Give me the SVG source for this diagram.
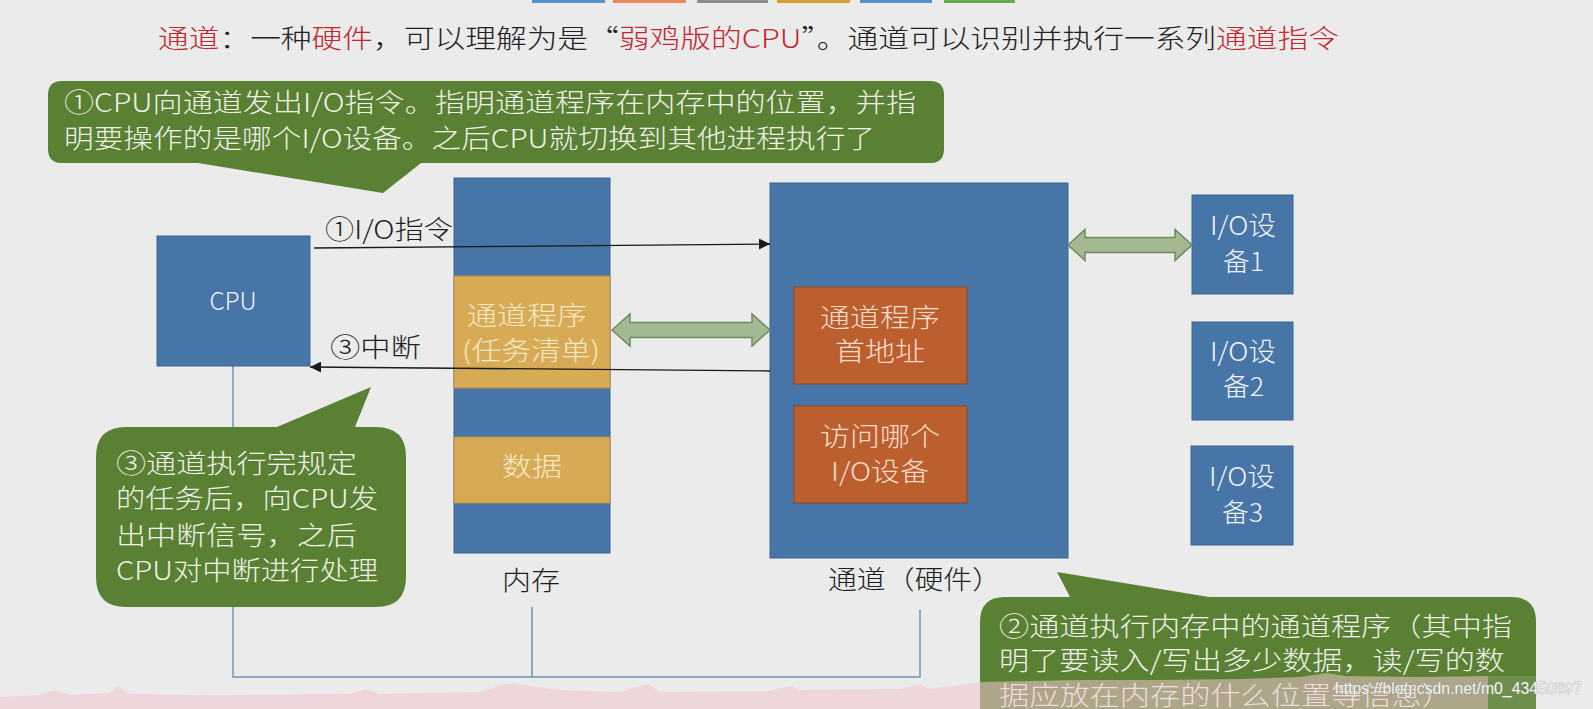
<svg xmlns="http://www.w3.org/2000/svg" width="1593" height="709" viewBox="0 0 1593 709">
<defs>
<style>
.cjk{font-family:"Noto Sans CJK SC","Noto Sans",sans-serif;font-weight:300;}
.blue{fill:#4775a7;stroke:#3c6592;stroke-width:1;}
.yellow{fill:#d7ab55;stroke:#b99043;stroke-width:1;}
.orange{fill:#bb5f2e;stroke:#8f4620;stroke-width:1;}
.callout{fill:#5a8034;}
.ctext{fill:#eef1e8;font-size:26px;}
.wtext{fill:#f2f4f7;font-size:26px;}
.ytext{fill:#f6e8c6;font-size:26px;}
.otext{fill:#f4ddcc;font-size:26px;}
.dark{fill:#1e1e1e;font-size:26px;}
.red{fill:#c0282e;}
.conn{stroke:#1a1a1a;stroke-width:1.3;fill:none;}
.tree{stroke:#7292ba;stroke-width:1.5;fill:none;}
.block{fill:#a2b992;stroke:#6d8c5d;stroke-width:1.5;}
</style>
<marker id="ah" viewBox="0 0 10 10" refX="10" refY="5" markerWidth="11" markerHeight="11" markerUnits="userSpaceOnUse" orient="auto">
<path d="M0,0 L10,5 L0,10 z" fill="#1a1a1a"/>
</marker>
</defs>
<rect width="1593" height="709" fill="#ebebeb"/>

<g id="tabs">
<rect x="532" y="0" width="73" height="3" fill="#5b8fcf"/>
<rect x="613" y="0" width="73" height="3" fill="#e8875a"/>
<rect x="697" y="0" width="71" height="3" fill="#8c8c8c"/>
<rect x="777" y="0" width="73" height="3" fill="#d9a030"/>
<rect x="860" y="0" width="72" height="3" fill="#5b8fcf"/>
<rect x="944" y="0" width="71" height="3" fill="#6aa84f"/>
</g>

<g id="title">
<text class="cjk" x="158" y="47.5" font-size="26" fill="#222" textLength="1181" lengthAdjust="spacingAndGlyphs"><tspan class="red">通道</tspan>：一种<tspan class="red">硬件</tspan>，可以理解为是“<tspan class="red">弱鸡版的CPU</tspan>”。通道可以识别并执行一系列<tspan class="red">通道指令</tspan></text>
</g>

<g id="tree-lines" class="tree">
<path d="M233,366 V677 H920 V610"/>
<path d="M532,607 V677"/>
</g>

<g id="cpu">
<rect class="blue" x="157" y="236" width="153" height="130"/>
<text class="cjk" x="233" y="310" font-size="24" fill="#f2f4f7" text-anchor="middle" textLength="47" lengthAdjust="spacingAndGlyphs">CPU</text>
</g>

<g id="memory">
<rect class="blue" x="454" y="178" width="156" height="375"/>
<rect class="yellow" x="454" y="276" width="156" height="112"/>
<rect class="yellow" x="454" y="437" width="156" height="66"/>
<text class="cjk ytext" x="467" y="325" textLength="120" lengthAdjust="spacingAndGlyphs">通道程序</text>
<text class="cjk ytext" x="462" y="360" textLength="138" lengthAdjust="spacingAndGlyphs">(任务清单)</text>
<text class="cjk ytext" x="502" y="476" textLength="60" lengthAdjust="spacingAndGlyphs">数据</text>
<text class="cjk dark" x="502" y="590" textLength="58" lengthAdjust="spacingAndGlyphs">内存</text>
</g>

<g id="channel">
<rect class="blue" x="770" y="183" width="298" height="375"/>
<rect class="orange" x="794" y="287" width="173" height="97"/>
<rect class="orange" x="794" y="406" width="173" height="97"/>
<text class="cjk otext" x="820" y="327" textLength="120" lengthAdjust="spacingAndGlyphs">通道程序</text>
<text class="cjk otext" x="835" y="361" textLength="90" lengthAdjust="spacingAndGlyphs">首地址</text>
<text class="cjk otext" x="820" y="446" textLength="120" lengthAdjust="spacingAndGlyphs">访问哪个</text>
<text class="cjk otext" x="831" y="481" textLength="98" lengthAdjust="spacingAndGlyphs">I/O设备</text>
<text class="cjk dark" x="828" y="589" textLength="173" lengthAdjust="spacingAndGlyphs">通道（硬件）</text>
</g>

<g id="io1">
<rect class="blue" x="1192" y="195" width="101" height="99"/>
<text class="cjk wtext" x="1210" y="235" textLength="66" lengthAdjust="spacingAndGlyphs">I/O设</text>
<text class="cjk wtext" x="1223" y="271" textLength="41" lengthAdjust="spacingAndGlyphs">备1</text>
</g>
<g id="io2">
<rect class="blue" x="1192" y="322" width="101" height="98"/>
<text class="cjk wtext" x="1210" y="361" textLength="66" lengthAdjust="spacingAndGlyphs">I/O设</text>
<text class="cjk wtext" x="1223" y="396" textLength="41" lengthAdjust="spacingAndGlyphs">备2</text>
</g>
<g id="io3">
<rect class="blue" x="1191" y="446" width="102" height="99"/>
<text class="cjk wtext" x="1209" y="486" textLength="66" lengthAdjust="spacingAndGlyphs">I/O设</text>
<text class="cjk wtext" x="1222" y="522" textLength="41" lengthAdjust="spacingAndGlyphs">备3</text>
</g>

<g id="connectors">
<line class="conn" x1="314" y1="248" x2="770" y2="244" marker-end="url(#ah)"/>
<line class="conn" x1="770" y1="371" x2="310" y2="367" marker-end="url(#ah)"/>
<polygon class="block" points="612,330 630,314 630,322.5 752,322.5 752,314 770,330 752,346 752,337.5 630,337.5 630,346"/>
<polygon class="block" points="1068,245 1085,229.5 1085,237.5 1175,237.5 1175,229.5 1192,245 1175,260.5 1175,252.5 1085,252.5 1085,260.5"/>
<text class="cjk dark" x="325" y="239" textLength="128" lengthAdjust="spacingAndGlyphs">①I/O指令</text>
<text class="cjk dark" x="330" y="357" textLength="91" lengthAdjust="spacingAndGlyphs">③中断</text>
</g>

<g id="callout1">
<path class="callout" d="M62,81 H930 Q944,81 944,95 V149 Q944,163 930,163 H421 L383,193 L198,163 H62 Q48,163 48,149 V95 Q48,81 62,81 Z"/>
<text class="cjk ctext" x="64" y="112" textLength="852" lengthAdjust="spacingAndGlyphs">①CPU向通道发出I/O指令。指明通道程序在内存中的位置，并指</text>
<text class="cjk ctext" x="64" y="148" textLength="811" lengthAdjust="spacingAndGlyphs">明要操作的是哪个I/O设备。之后CPU就切换到其他进程执行了</text>
</g>

<g id="callout3">
<path class="callout" d="M126,427 H277 L371,387 L355,427 H376 Q406,427 406,457 V577 Q406,607 376,607 H126 Q96,607 96,577 V457 Q96,427 126,427 Z"/>
<text class="cjk ctext" x="116" y="473" textLength="241" lengthAdjust="spacingAndGlyphs">③通道执行完规定</text>
<text class="cjk ctext" x="116" y="508" textLength="262" lengthAdjust="spacingAndGlyphs">的任务后，向CPU发</text>
<text class="cjk ctext" x="116" y="545" textLength="241" lengthAdjust="spacingAndGlyphs">出中断信号，之后</text>
<text class="cjk ctext" x="116" y="580" textLength="262" lengthAdjust="spacingAndGlyphs">CPU对中断进行处理</text>
</g>

<g id="callout2">
<path class="callout" d="M1005,597 H1070 L1057,572 L1209,597 H1511 Q1536,597 1536,622 V740 H980 V622 Q980,597 1005,597 Z"/>
<text class="cjk ctext" x="999" y="636" textLength="513" lengthAdjust="spacingAndGlyphs">②通道执行内存中的通道程序（其中指</text>
<text class="cjk ctext" x="999" y="670" textLength="506" lengthAdjust="spacingAndGlyphs">明了要读入/写出多少数据，读/写的数</text>
<text class="cjk ctext" x="999" y="705" textLength="453" lengthAdjust="spacingAndGlyphs">据应放在内存的什么位置等信息）</text>
</g>

<g id="bottom-band">
<polygon fill="#f3c4ce" fill-opacity="0.55" points="0,697 40,695 55,690 70,695 110,693 118,686 128,694 200,695 350,694 365,689 380,694 480,692 500,685 515,683 530,686 560,690 620,692 648,684 660,692 770,691 790,686 800,690 900,689 920,684 930,689 980,682 1080,680 1160,680 1240,679 1300,677 1327,673 1345,676 1420,677 1488,676 1488,709 0,709"/>
<rect x="1488" y="676" width="48" height="33" fill="#ffffff" fill-opacity="0.12"/>
<text x="1335" y="694" font-family="Liberation Sans, Arial, sans-serif" font-size="16" fill="#f4f4f4" stroke="#8a8a8a" stroke-width="0.6" paint-order="stroke" textLength="247" lengthAdjust="spacingAndGlyphs">https://blog.csdn.net/m0_43450897</text>
</g>
</svg>
